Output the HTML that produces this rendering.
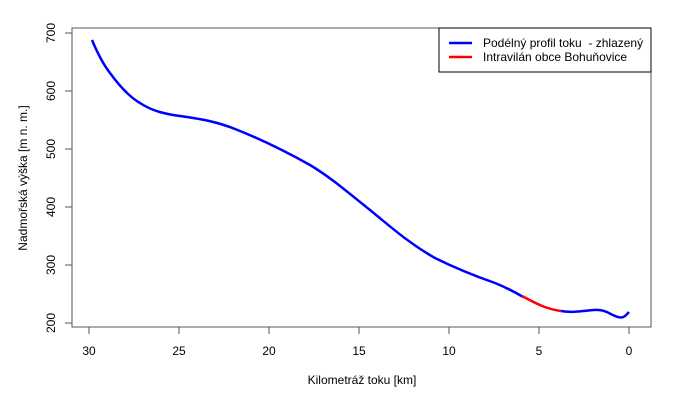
<!DOCTYPE html>
<html><head><style>body{margin:0;background:#fff}svg{display:block}text{white-space:pre}</style></head><body>
<svg width="680" height="400" xmlns="http://www.w3.org/2000/svg" font-family="Liberation Sans, sans-serif" font-size="12">
<rect x="0" y="0" width="680" height="400" fill="#fff"/>
<rect x="72" y="28" width="579" height="299" fill="none" stroke="#555" stroke-width="1"/>
<g stroke="#555">
<line x1="89" y1="327" x2="629" y2="327"/>
<line x1="89" y1="327" x2="89" y2="334"/><line x1="179" y1="327" x2="179" y2="334"/><line x1="269" y1="327" x2="269" y2="334"/><line x1="359" y1="327" x2="359" y2="334"/><line x1="449" y1="327" x2="449" y2="334"/><line x1="539" y1="327" x2="539" y2="334"/><line x1="629" y1="327" x2="629" y2="334"/>
<line x1="72" y1="33" x2="72" y2="323"/>
<line x1="65" y1="33" x2="72" y2="33"/><line x1="65" y1="91" x2="72" y2="91"/><line x1="65" y1="149" x2="72" y2="149"/><line x1="65" y1="207" x2="72" y2="207"/><line x1="65" y1="265" x2="72" y2="265"/><line x1="65" y1="323" x2="72" y2="323"/>
</g>
<g text-anchor="middle" fill="#000">
<text x="89" y="355">30</text><text x="179" y="355">25</text><text x="269" y="355">20</text><text x="359" y="355">15</text><text x="449" y="355">10</text><text x="539" y="355">5</text><text x="629" y="355">0</text>
<text x="362" y="384">Kilometráž toku [km]</text>
<g transform="rotate(-90)">
<text x="-33" y="55">700</text><text x="-91" y="55">600</text><text x="-149" y="55">500</text><text x="-207" y="55">400</text><text x="-265" y="55">300</text><text x="-323" y="55">200</text>
<text x="-178" y="27">Nadmořská výška [m n. m.]</text>
</g>
</g>
<path d="M92,40 C97,52 103,64 110,73 C118,84 128,96 140,103 C152,111 165,114 180,116 C200,119 215,121 235,129 C258,138 285,151 310,165 C330,177 345,190 370,210 C392,228 410,244 435,258 C455,268 475,276 495,283 C507,288 515,292 523,297" fill="none" stroke="#00f" stroke-width="2.5"/>
<path d="M522,296 C535,303 546,309 561,311" fill="none" stroke="#f00" stroke-width="2.5"/>
<path d="M561,311 C572,313 582,311 594,310 C606,309 610,315 618,317 C624,319 627,314 629,312" fill="none" stroke="#00f" stroke-width="2.5"/>
<rect x="439" y="28" width="212" height="44" fill="#fff" stroke="#000" stroke-width="1"/>
<line x1="449" y1="43" x2="472" y2="43" stroke="#00f" stroke-width="2.5"/>
<line x1="449" y1="57" x2="472" y2="57" stroke="#f00" stroke-width="2.5"/>
<text x="483" y="47">Podélný profil toku&#160; - zhlazený</text>
<text x="483" y="61">Intravilán obce Bohuňovice</text>
</svg>
</body></html>
